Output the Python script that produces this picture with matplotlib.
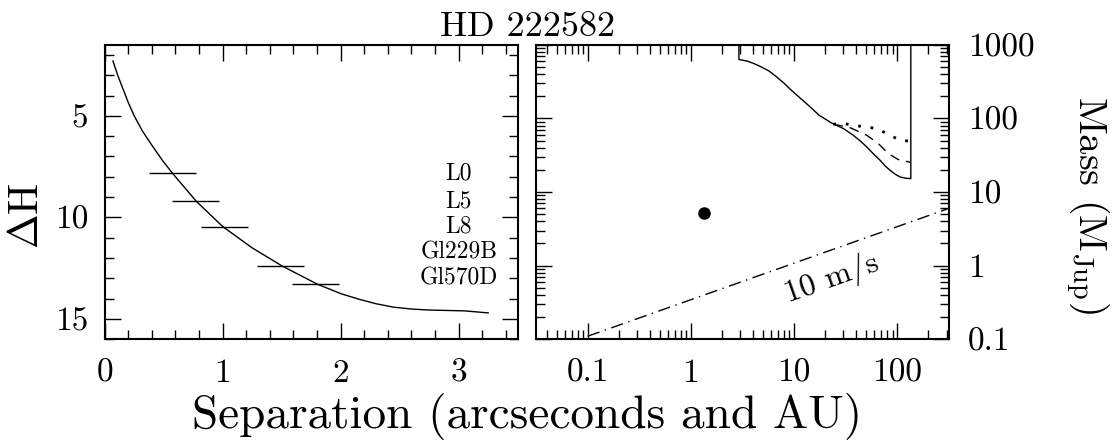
import numpy as np
import matplotlib; matplotlib.use('Agg')
import matplotlib.pyplot as plt
from matplotlib.ticker import MultipleLocator, LogLocator, NullFormatter, FuncFormatter

plt.rcParams['font.family'] = ['cmr10', 'DejaVu Serif']
plt.rcParams['mathtext.fontset'] = 'cm'

# left panel: contrast curve (arcsec vs delta H)
sep_arcsec = [0.07, 0.11, 0.15, 0.20, 0.25, 0.32, 0.40, 0.49, 0.575, 0.775, 1.0, 1.25, 1.50, 1.80,
              2.0, 2.15, 2.30, 2.45, 2.60, 2.75, 3.05, 3.25]
delta_h = [2.3, 3.0, 3.6, 4.35, 5.0, 5.75, 6.45, 7.2, 7.83, 9.2, 10.45, 11.5, 12.38, 13.28,
           13.75, 14.02, 14.25, 14.42, 14.51, 14.56, 14.6, 14.7]
spt_names = ['L0', 'L5', 'L8', 'Gl229B', 'Gl570D']
spt_sep = [0.576, 0.771, 1.013, 1.493, 1.787]
spt_dh = [7.83, 9.2, 10.46, 12.38, 13.28]
spt_halfwidth = 0.2
label_dh = [7.83, 9.19, 10.46, 11.74, 13.0]

# right panel: mass limits (AU vs M_Jup)
lim_au = [2.92, 2.92, 3.5, 4.07, 4.8, 5.69, 6.7, 7.93, 9.4, 11.1, 13.1, 15.4, 17.5, 19.8, 22, 24, 27, 30,
          37.4, 44, 50.5, 58, 68, 76, 85, 95, 106, 120, 135, 135]
lim_mass = [1000, 630, 600, 556, 500, 441, 370, 303, 241, 196, 160, 130, 110, 99, 90, 84, 78, 72.8,
            59, 49, 41, 33.5, 27, 22.7, 19.7, 17.5, 16, 15.4, 15.2, 1000]
dot_au = [24.0, 29.9, 43.5, 63.1, 84.9, 106, 133]
dot_mass = [83.4, 85.1, 78.2, 72.8, 59.0, 50.5, 49.0]
dash_au = [24.0, 34.8, 50.5, 65.3, 81.7, 102, 133]
dash_mass = [83.4, 74.8, 59.0, 45.6, 33.3, 27.6, 25.4]
planet_au, planet_mass = 1.35, 5.2
rv_au = [0.1, 316]
rv_mass = [0.11, 6.0]

fig = plt.figure(figsize=(11.15, 4.41), dpi=100)
ax1 = fig.add_axes([0.0939, 0.2306, 0.3704, 0.668])
ax2 = fig.add_axes([0.4807, 0.2306, 0.3704, 0.668])

for ax in (ax1, ax2):
    for s in ax.spines.values(): s.set_linewidth(1.5)
    ax.tick_params(which='both', direction='in', top=True, bottom=True, left=True, right=True,
                   width=1.0, labelsize=24)
    ax.tick_params(which='major', length=11.5)
    ax.tick_params(which='minor', length=6.5)

# left
ax1.plot(sep_arcsec, delta_h, 'k-', lw=1.0)
ax1.hlines(spt_dh, np.array(spt_sep) - spt_halfwidth, np.array(spt_sep) + spt_halfwidth, color='k', lw=1.0)
for nm, y in zip(spt_names, label_dh):
    ax1.text(3.0, y, nm, ha='center', va='center', fontsize=17)
ax1.set_xlim(0, 3.5); ax1.set_ylim(16, 1.5)
ax1.xaxis.set_major_locator(MultipleLocator(1)); ax1.xaxis.set_minor_locator(MultipleLocator(0.2))
ax1.yaxis.set_major_locator(MultipleLocator(5)); ax1.yaxis.set_minor_locator(MultipleLocator(1))
ax1.tick_params(axis='x', pad=14); ax1.tick_params(axis='y', pad=12)

# right
ax2.set_xscale('log'); ax2.set_yscale('log')
ax2.plot(lim_au, lim_mass, 'k-', lw=1.0)
ax2.plot(dot_au, dot_mass, 'k', ls=(0, (1, 3.5)), lw=2.0)
ax2.plot(dash_au, dash_mass, 'k', ls=(0, (7, 5)), lw=1.0)
ax2.plot(planet_au, planet_mass, 'ko', ms=8)
ax2.plot(rv_au, rv_mass, 'k', ls=(0, (9, 4, 1, 4)), lw=1.0)
ax2.text(23, 0.66, '10 m/s', rotation=19.5, ha='center', va='center', fontsize=23)
ax2.set_xlim(10**-1.5, 10**2.5); ax2.set_ylim(0.1, 1000)
for a in (ax2.xaxis, ax2.yaxis):
    a.set_major_locator(LogLocator(base=10, numticks=20))
    a.set_minor_locator(LogLocator(base=10, subs=np.arange(2, 10), numticks=20))
    a.set_major_formatter(FuncFormatter(lambda v, p: f'{v:g}'))
    a.set_minor_formatter(NullFormatter())
ax2.tick_params(axis='y', which='both', labelleft=False, labelright=True, pad=13.5)
ax2.tick_params(axis='x', pad=14)

fig.text(0.473, 0.918, 'HD 222582', ha='center', va='baseline', fontsize=26)
fig.text(0.473, 0.0295, 'Separation (arcseconds and AU)', ha='center', va='baseline', fontsize=34)
fig.text(0.0247, 0.51, r'$\Delta$H', rotation=90, ha='center', va='center', fontsize=30)
fig.text(0.975, 0.535, r'Mass (M$_{\rm Jup}$)', rotation=270, ha='center', va='center', fontsize=29)

plt.savefig('out.png', dpi=100)
plt.close()
